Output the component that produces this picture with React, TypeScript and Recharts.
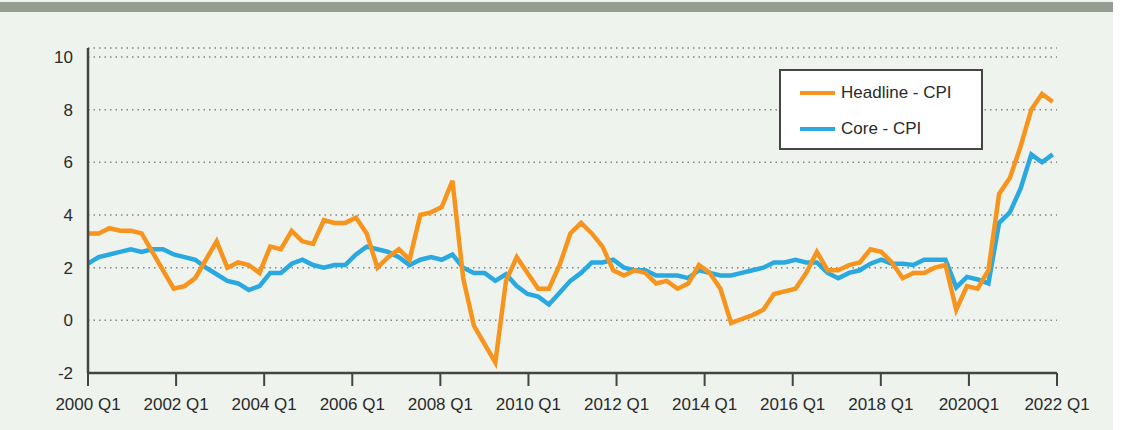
import { LineChart, Line, XAxis, YAxis, CartesianGrid, Legend } from 'recharts';

// quarterly, 2000 Q1 .. 2022 Q3
const years = [2000, 2001, 2002, 2003, 2004, 2005, 2006, 2007, 2008, 2009, 2010, 2011,
  2012, 2013, 2014, 2015, 2016, 2017, 2018, 2019, 2020, 2021, 2022];
const quarters = years.flatMap((y) => ['Q1', 'Q2', 'Q3', 'Q4'].map((q) => `${y} ${q}`)).slice(0, 91);

const headline = [
  3.3, 3.3, 3.5, 3.4, 3.4, 3.3, 2.6, 1.9, 1.2, 1.3,
  1.6, 2.3, 3.0, 2.0, 2.2, 2.1, 1.8, 2.8, 2.7, 3.4,
  3.0, 2.9, 3.8, 3.7, 3.7, 3.9, 3.3, 2.0, 2.4, 2.7,
  2.3, 4.0, 4.1, 4.3, 5.3, 1.6, -0.2, -0.9, -1.6, 1.5,
  2.4, 1.8, 1.2, 1.2, 2.1, 3.3, 3.7, 3.3, 2.8, 1.9,
  1.7, 1.9, 1.8, 1.4, 1.5, 1.2, 1.4, 2.1, 1.8, 1.2,
  -0.1, 0.05, 0.2, 0.4, 1.0, 1.1, 1.2, 1.8, 2.6, 1.9,
  1.9, 2.1, 2.2, 2.7, 2.6, 2.2, 1.6, 1.8, 1.8, 2.0,
  2.1, 0.4, 1.3, 1.2, 1.9, 4.8, 5.4, 6.6, 8.0, 8.6, 8.3,
];

const core = [
  2.15, 2.4, 2.5, 2.6, 2.7, 2.6, 2.7, 2.7, 2.5, 2.4,
  2.3, 2.0, 1.75, 1.5, 1.4, 1.15, 1.3, 1.8, 1.8, 2.15,
  2.3, 2.1, 2.0, 2.1, 2.1, 2.5, 2.8, 2.7, 2.6, 2.4,
  2.1, 2.3, 2.4, 2.3, 2.5, 2.0, 1.8, 1.8, 1.5, 1.75,
  1.3, 1.0, 0.9, 0.6, 1.05, 1.5, 1.8, 2.2, 2.2, 2.3,
  2.0, 1.9, 1.9, 1.7, 1.7, 1.7, 1.6, 1.9, 1.8, 1.7,
  1.7, 1.8, 1.9, 2.0, 2.2, 2.2, 2.3, 2.2, 2.2, 1.8,
  1.6, 1.8, 1.9, 2.15, 2.3, 2.15, 2.15, 2.1, 2.3, 2.3,
  2.3, 1.25, 1.65, 1.55, 1.4, 3.7, 4.1, 5.0, 6.3, 6.0, 6.3,
];

const xTickLabels = ['2000 Q1', '2002 Q1', '2004 Q1', '2006 Q1', '2008 Q1', '2010 Q1',
  '2012 Q1', '2014 Q1', '2016 Q1', '2018 Q1', '2020Q1', '2022 Q1'];
const yTicks = [-2, 0, 2, 4, 6, 8, 10];

const series = [
  { key: 'headline', name: 'Headline - CPI', color: '#F7941D' },
  { key: 'core', name: 'Core - CPI', color: '#29A9E0' },
];

// the printed labels are spread evenly over the axis, which runs a little past the last quarter
const X_MAX = 90.4;
const xTicks = xTickLabels.map((_, k) => (k * X_MAX) / (xTickLabels.length - 1));

const data = quarters.map((q, i) => ({ q, i, headline: headline[i], core: core[i] }));

const font = '"Liberation Sans", Arial, sans-serif';
const textColor = '#2a2a2a';

function LegendBox() {
  return (
    <div
      style={{
        width: 204,
        height: 81,
        boxSizing: 'border-box',
        border: '2px solid #454545',
        background: '#fff',
        padding: '4px 0 0 19px',
        fontFamily: font,
      }}
    >
      {series.map((s) => (
        <div key={s.key} style={{ display: 'flex', alignItems: 'center', height: 36 }}>
          <span style={{ display: 'inline-block', width: 35, height: 4, background: s.color, marginRight: 6 }} />
          <span style={{ fontSize: 17, color: textColor }}>{s.name}</span>
        </div>
      ))}
    </div>
  );
}

export default function App() {
  return (
    <div style={{ position: 'absolute', left: 0, top: 0, width: 1130, height: 430, background: '#fff' }}>
      <div style={{ position: 'absolute', left: 0, top: 0, width: 1113, height: 430, background: '#EEF3ED' }} />
      <div style={{ position: 'absolute', left: 0, top: 2, width: 1113, height: 10, background: '#959D92' }} />
      <div style={{ position: 'absolute', left: 0, top: 0 }}>
        <LineChart
          width={1130}
          height={430}
          data={data}
          margin={{ top: 48, right: 73, left: 48, bottom: 17 }}
        >
          <CartesianGrid vertical={false} stroke="#858585" strokeWidth={1.5} strokeDasharray="1.5 4" />
          <XAxis
            type="number"
            dataKey="i"
            domain={[0, X_MAX]}
            ticks={xTicks}
            interval={0}
            tickFormatter={(_v, idx) => xTickLabels[idx]}
            height={40}
            axisLine={{ stroke: '#444', strokeWidth: 2.5 }}
            tickLine={{ stroke: '#444', strokeWidth: 2 }}
            tickSize={13}
            tickMargin={12}
            tick={{ fill: textColor, fontSize: 17, fontFamily: font }}
          />
          <YAxis
            type="number"
            domain={[-2, 10.34]}
            ticks={yTicks}
            interval={0}
            width={40}
            axisLine={{ stroke: '#444', strokeWidth: 2.5 }}
            tickLine={false}
            tickSize={0}
            tickMargin={15}
            tick={{ fill: textColor, fontSize: 17, fontFamily: font }}
          />
          <Legend
            layout="horizontal"
            verticalAlign="middle"
            align="center"
            content={<LegendBox />}
            wrapperStyle={{ left: 779, top: 69, width: 204, height: 81 }}
          />
          <Line
            type="linear"
            dataKey="core"
            name="Core - CPI"
            stroke="#29A9E0"
            strokeWidth={4.5}
            dot={false}
            isAnimationActive={false}
          />
          <Line
            type="linear"
            dataKey="headline"
            name="Headline - CPI"
            stroke="#F7941D"
            strokeWidth={4.5}
            dot={false}
            isAnimationActive={false}
          />
        </LineChart>
      </div>
    </div>
  );
}
